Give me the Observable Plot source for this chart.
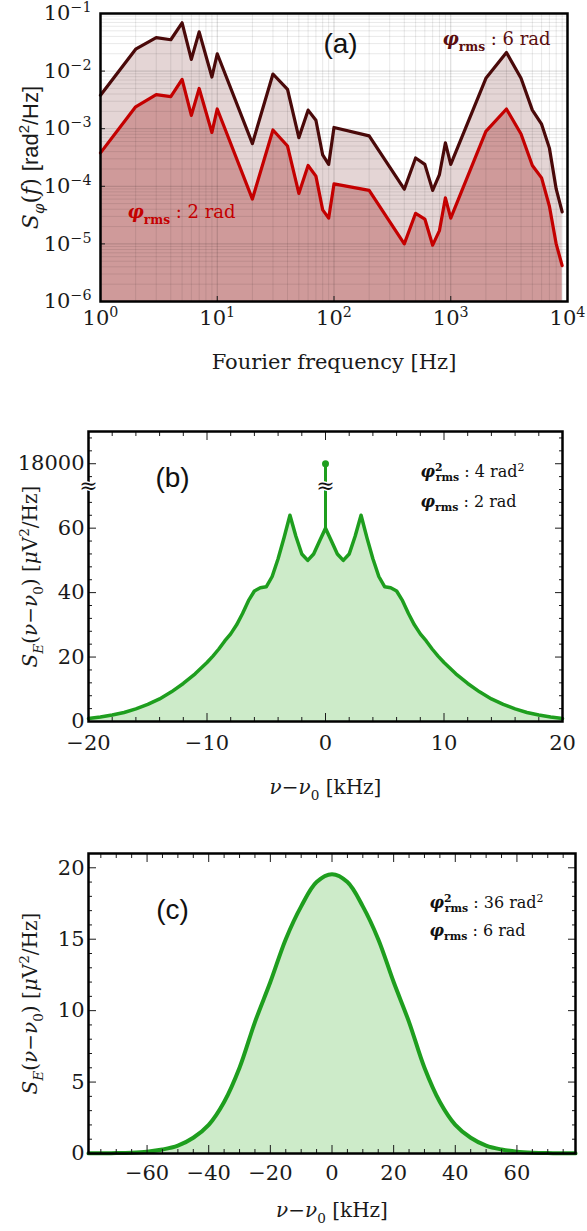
<!DOCTYPE html>
<html><head><meta charset="utf-8">
<script src="https://cdn.jsdelivr.net/npm/d3@7"></script>
<script src="https://cdn.jsdelivr.net/npm/@observablehq/plot@0.6"></script>
<style>
body{margin:0;background:#fff;}
#wrap{position:relative;width:587px;height:1231px;overflow:hidden;background:#fff;}
#wrap > svg{position:absolute;left:0;overflow:visible;}
</style></head><body><div id="wrap"></div>
<script>
// ---------- Panel (a): phase-noise PSD ----------
const freqA = [1,2,3,4,5,6,7,9,10,20,30,40,50,60,70,80,90,100,200,400,500,600,700,800,900,1000,2000,3000,4000,5000,6000,7000,8000,9000];
const psd6rad = [3.8e-3,2.4e-2,3.8e-2,3.5e-2,6.9e-2,1.6e-2,4.8e-2,7.9e-3,2.0e-2,5.5e-4,8.9e-3,4.8e-3,7.0e-4,2.1e-3,1.4e-3,3.5e-4,2.4e-4,1.05e-3,7.5e-4,8.9e-5,3.1e-4,2.4e-4,8.5e-5,1.6e-4,5.7e-4,2.4e-4,7.5e-3,2.1e-2,7.5e-3,2.1e-3,1.2e-3,4.6e-4,9.0e-5,3.6e-5];
const psd2rad = [3.8e-4,2.4e-3,3.9e-3,3.6e-3,7.2e-3,1.7e-3,5.0e-3,8.6e-4,2.2e-3,6.0e-5,9.5e-4,5.0e-4,7.5e-5,2.3e-4,1.5e-4,3.9e-5,2.8e-5,1.1e-4,8.5e-5,1.0e-5,3.4e-5,2.7e-5,9.5e-6,1.7e-5,6.3e-5,2.8e-5,9.0e-4,2.2e-3,8.1e-4,2.3e-4,1.4e-4,4.5e-5,1.0e-5,4.2e-6];
const ticksAx = [1,10,100,1000,10000];
const ticksAy = [1e-6,1e-5,1e-4,1e-3,1e-2,1e-1];

// ---------- Panel (b): field spectrum, phi_rms = 2 rad ----------
const detuneB = [-20,-19,-18,-17,-16,-15,-14,-13,-12,-11,-10,-9.5,-9,-8.5,-8,-7.5,-7,-6.5,-6,-5.5,-5,-4.5,-4,-3.5,-3,-2.5,-2,-1.5,-1,-0.5,0,0.5,1,1.5,2,2.5,3,3.5,4,4.5,5,5.5,6,6.5,7,7.5,8,8.5,9,9.5,10,11,12,13,14,15,16,17,18,19,20];
const specB   = [0.9,1.4,2.0,2.8,3.9,5.3,7.0,9.2,11.8,14.8,18.3,20.3,22.5,25.0,27.2,30.0,33.5,37.5,40.5,41.5,41.8,45,50.5,57,64,57.5,52,50,52,56,60,56,52,50,52,57.5,64,57,50.5,45,41.8,41.5,40.5,37.5,33.5,30.0,27.2,25.0,22.5,20.3,18.3,14.8,11.8,9.2,7.0,5.3,3.9,2.8,2.0,1.4,0.9];
const carrierPeakB = 18000;      // value of the carrier spike (shown above the axis break)
const carrierBase = 60;
const ticksBx = [-20,-10,0,10,20];
const ticksBy = [0,20,40,60];

// ---------- Panel (c): field spectrum, phi_rms = 6 rad ----------
const detuneC = [-79,-75,-70,-65,-60,-55,-50,-45,-40,-35,-30,-25,-20,-15,-10,-5,0,5,10,15,20,25,30,35,40,45,50,55,60,65,70,75,79];
const specC   = [0.01,0.02,0.03,0.06,0.13,0.28,0.55,1.1,2.0,3.6,6.0,9.2,12.0,15.0,17.3,19.0,19.55,19.0,17.3,15.0,12.0,9.2,6.0,3.6,2.0,1.1,0.55,0.28,0.13,0.06,0.03,0.02,0.01];
const ticksCx = [-60,-40,-20,0,20,40,60];
const ticksCy = [0,5,10,15,20];

// ---------- helpers ----------
const SERIF = "'DejaVu Serif', 'Liberation Serif', serif";
const SANS = "'Liberation Sans', Arial, sans-serif";
const SVGNS = "http://www.w3.org/2000/svg";
const wrap = document.getElementById("wrap");

function richify(svg, key, segs) {
  for (const t of svg.querySelectorAll("text")) {
    if (t.textContent !== key) continue;
    while (t.firstChild) t.removeChild(t.firstChild);
    let shift = 0;
    for (const s of segs) {
      const ts = document.createElementNS(SVGNS, "tspan");
      ts.textContent = s.t;
      const small = s.sub || s.sup;
      const fs = small ? 0.68 : 1;
      const target = s.sub ? 0.3 : s.sup ? -0.38 : 0;
      if (small) ts.setAttribute("font-size", (fs * 100) + "%");
      if (target !== shift) { ts.setAttribute("dy", ((target - shift) / fs).toFixed(3) + "em"); shift = target; }
      if (s.dx) ts.setAttribute("dx", s.dx + "em");
      if (s.i) ts.setAttribute("font-style", "italic");
      if (s.b) ts.setAttribute("font-weight", "bold");
      if (s.font) ts.setAttribute("font-family", s.font);
      t.appendChild(ts);
    }
  }
}
function powFmt(d) { return "10^" + String(Math.round(Math.log10(d))).replace("-", "−"); }
function supTicks(svg) {
  for (const t of svg.querySelectorAll("text")) {
    const s = t.textContent;
    if (!/^10\^/.test(s)) continue;
    richify(svg, s, [{t: "10"}, {t: s.slice(3), sup: true}]);
  }
}
function place(svg, top) { svg.style.top = top + "px"; wrap.appendChild(svg); }
function minorLog(lo, hi) {
  const out = [];
  for (let e = lo; e < hi; e++) for (let m = 2; m <= 9; m++) out.push(m * Math.pow(10, e));
  return out;
}
const empty = () => "";
const C = {textAnchor: "middle", lineAnchor: "middle"};
const S = {textAnchor: "start", lineAnchor: "middle"};

// ---------- Panel (a) ----------
const dataA = freqA.map((f, i) => ({f, hi: psd6rad[i], lo: psd2rad[i]}));
const minorAx = minorLog(0, 4), minorAy = minorLog(-6, -1);
const plotA = Plot.plot({
  width: 587, height: 380, marginTop: 13, marginBottom: 79, marginLeft: 100, marginRight: 20,
  style: {fontFamily: SERIF, fontSize: "21px", color: "#1a1a1a", background: "transparent"},
  x: {type: "log", domain: [1, 1e4]},
  y: {type: "log", domain: [1e-6, 1e-1]},
  marks: [
    Plot.areaY(dataA, {x: "f", y1: 1e-6, y2: "hi", fill: "#e4d5d5"}),
    Plot.areaY(dataA, {x: "f", y1: 1e-6, y2: "lo", fill: "#cf9a9a"}),
    Plot.gridX(minorAx, {stroke: "#000", strokeOpacity: 0.09}),
    Plot.gridY(minorAy, {stroke: "#000", strokeOpacity: 0.09}),
    Plot.gridX(ticksAx, {stroke: "#000", strokeOpacity: 0.16}),
    Plot.gridY(ticksAy, {stroke: "#000", strokeOpacity: 0.16}),
    Plot.lineY(dataA, {x: "f", y: "hi", stroke: "#4a0909", strokeWidth: 3.2}),
    Plot.lineY(dataA, {x: "f", y: "lo", stroke: "#c40000", strokeWidth: 3.2}),
    Plot.axisX(ticksAx, {tickSize: -5, tickPadding: 14, tickFormat: powFmt, label: null, fontSize: 21}),
    Plot.axisY(ticksAy, {tickSize: -5, tickPadding: 14, tickFormat: powFmt, label: null, fontSize: 21}),
    Plot.frame({stroke: "#000", strokeWidth: 2.5}),
    Plot.text(["(a)"], {text: d => d, frameAnchor: "top-left", dx: 240, dy: 31, ...C, fontFamily: SANS, fontSize: 28, fill: "#111"}),
    Plot.text(["φrms : 6 rad"], {text: d => d, frameAnchor: "top-left", dx: 342, dy: 26, ...S, fontSize: 18, fill: "#5a0e0e"}),
    Plot.text(["φrms : 2 rad"], {text: d => d, frameAnchor: "top-left", dx: 27, dy: 199, ...S, fontSize: 18, fill: "#c40000"}),
    Plot.text(["Sφ(f) [rad2/Hz]"], {text: d => d, frameAnchor: "left", dx: -70, rotate: -90, ...C, fontSize: 22}),
    Plot.text(["Fourier frequency [Hz]"], {text: d => d, frameAnchor: "bottom", dy: 61, ...C, fontSize: 21})
  ]
});
supTicks(plotA);
richify(plotA, "φrms : 6 rad", [{t: "φ", b: 1, i: 1}, {t: "rms", b: 1, sub: 1}, {t: " : 6 rad"}]);
richify(plotA, "φrms : 2 rad", [{t: "φ", b: 1, i: 1}, {t: "rms", b: 1, sub: 1}, {t: " : 2 rad"}]);
richify(plotA, "Sφ(f) [rad2/Hz]", [{t: "S", i: 1}, {t: "φ", i: 1, sub: 1}, {t: "("}, {t: "f", i: 1}, {t: ") "}, {t: "[rad", font: SANS}, {t: "2", sup: 1, font: SANS}, {t: "/Hz]", font: SANS}]);
place(plotA, 0);

// ---------- Panel (b) ----------
const breakAt = 80;  // plotting height at which the carrier value is drawn (axis break)
const dataB = detuneB.map((x, i) => ({x, y: specB[i]}));
const spike = [{x: 0, base: carrierBase, top: breakAt, value: carrierPeakB}];
const minorBx = d3.range(-18, 20, 2).filter(v => v % 10 !== 0);
const minorBy = d3.range(4, 90, 4).filter(v => v % 20 !== 0);
const yLabelKey = "SE(ν−ν0) [μV2/Hz]";
const xLabelKey = "ν−ν0 [kHz]";
const ySegs = [{t: "S", i: 1}, {t: "E", i: 1, sub: 1}, {t: "("}, {t: "ν", i: 1}, {t: "−"}, {t: "ν", i: 1}, {t: "0", sub: 1}, {t: ") ["}, {t: "μ", i: 1}, {t: "V"}, {t: "2", sup: 1}, {t: "/Hz]"}];
const xSegs = [{t: "ν", i: 1}, {t: "−"}, {t: "ν", i: 1}, {t: "0", sub: 1}, {t: " [kHz]"}];
const GREEN = "#1e9e1e", GFILL = "#cdebc9";
const plotB = Plot.plot({
  width: 587, height: 400, marginTop: 31, marginBottom: 79, marginLeft: 88, marginRight: 25,
  style: {fontFamily: SERIF, fontSize: "21px", color: "#1a1a1a", background: "transparent"},
  x: {domain: [-20, 20]},
  y: {domain: [0, 90]},
  marks: [
    Plot.areaY(dataB, {x: "x", y: "y", fill: GFILL}),
    Plot.lineY(dataB, {x: "x", y: "y", stroke: GREEN, strokeWidth: 3.5}),
    Plot.ruleX(spike, {x: "x", y1: "base", y2: "top", stroke: GREEN, strokeWidth: 3}),
    Plot.dot(spike, {x: "x", y: "top", r: 3.5, fill: GREEN}),
    Plot.text(spike, {x: "x", y: breakAt - 7, text: () => "≈", fontSize: 22, fill: "#111", stroke: "white", strokeWidth: 3}),
    Plot.axisX(ticksBx, {tickSize: -8, tickPadding: 22, label: null, tickFormat: d => String(d).replace("-", "−"), fontSize: 21}),
    Plot.axisX(minorBx, {tickSize: -4, label: null, tickFormat: empty}),
    Plot.axisX(ticksBx, {anchor: "top", tickSize: -8, label: null, tickFormat: empty}),
    Plot.axisX(minorBx, {anchor: "top", tickSize: -4, label: null, tickFormat: empty}),
    Plot.axisY([...ticksBy, breakAt], {tickSize: -8, tickPadding: 12, label: null, tickFormat: d => d === breakAt ? String(carrierPeakB) : String(d), fontSize: 21}),
    Plot.axisY(minorBy, {tickSize: -4, label: null, tickFormat: empty}),
    Plot.axisY([...ticksBy, breakAt], {anchor: "right", tickSize: -8, label: null, tickFormat: empty}),
    Plot.axisY(minorBy, {anchor: "right", tickSize: -4, label: null, tickFormat: empty}),
    Plot.frame({stroke: "#000", strokeWidth: 2.5}),
    Plot.text(["≈"], {text: d => d, x: -20, y: breakAt - 7, fontSize: 22, fill: "#111", stroke: "white", strokeWidth: 3}),
    Plot.text(["(b)"], {text: d => d, frameAnchor: "top-left", dx: 84, dy: 47, ...C, fontFamily: SANS, fontSize: 28, fill: "#111"}),
    Plot.text(["φ2rms : 4 rad2"], {text: d => d, frameAnchor: "top-left", dx: 332, dy: 40, ...S, fontSize: 16, fill: "#111"}),
    Plot.text(["φrms : 2 rad"], {text: d => d, frameAnchor: "top-left", dx: 332, dy: 70, ...S, fontSize: 16, fill: "#111"}),
    Plot.text([yLabelKey], {text: d => d, frameAnchor: "left", dx: -58, rotate: -90, ...C, fontSize: 20}),
    Plot.text([xLabelKey], {text: d => d, frameAnchor: "bottom", dy: 66, ...C, fontSize: 20})
  ]
});
richify(plotB, "φ2rms : 4 rad2", [{t: "φ", b: 1, i: 1}, {t: "2", b: 1, sup: 1}, {t: "rms", b: 1, sub: 1, dx: -0.62}, {t: " : 4 rad"}, {t: "2", sup: 1}]);
richify(plotB, "φrms : 2 rad", [{t: "φ", b: 1, i: 1}, {t: "rms", b: 1, sub: 1}, {t: " : 2 rad"}]);
richify(plotB, yLabelKey, ySegs);
richify(plotB, xLabelKey, xSegs);
place(plotB, 400);

// ---------- Panel (c) ----------
const dataC = detuneC.map((x, i) => ({x, y: specC[i]}));
const minorCx = d3.range(-75, 80, 5).filter(v => v % 20 !== 0);
const minorCy = d3.range(1, 21, 1).filter(v => v % 5 !== 0);
const plotC = Plot.plot({
  width: 587, height: 401, marginTop: 23, marginBottom: 78, marginLeft: 88, marginRight: 12,
  style: {fontFamily: SERIF, fontSize: "21px", color: "#1a1a1a", background: "transparent"},
  x: {domain: [-79, 79]},
  y: {domain: [0, 21]},
  marks: [
    Plot.areaY(dataC, {x: "x", y: "y", fill: GFILL, curve: "catmull-rom"}),
    Plot.lineY(dataC, {x: "x", y: "y", stroke: GREEN, strokeWidth: 4, curve: "catmull-rom"}),
    Plot.axisX(ticksCx, {tickSize: -8, tickPadding: 20, label: null, tickFormat: d => String(d).replace("-", "−"), fontSize: 21}),
    Plot.axisX(minorCx, {tickSize: -4, label: null, tickFormat: empty}),
    Plot.axisX(ticksCx, {anchor: "top", tickSize: -8, label: null, tickFormat: empty}),
    Plot.axisX(minorCx, {anchor: "top", tickSize: -4, label: null, tickFormat: empty}),
    Plot.axisY(ticksCy, {tickSize: -8, tickPadding: 12, label: null, fontSize: 21}),
    Plot.axisY(minorCy, {tickSize: -4, label: null, tickFormat: empty}),
    Plot.axisY(ticksCy, {anchor: "right", tickSize: -8, label: null, tickFormat: empty}),
    Plot.axisY(minorCy, {anchor: "right", tickSize: -4, label: null, tickFormat: empty}),
    Plot.frame({stroke: "#000", strokeWidth: 2.5}),
    Plot.text(["(c)"], {text: d => d, frameAnchor: "top-left", dx: 84, dy: 57, ...C, fontFamily: SANS, fontSize: 28, fill: "#111"}),
    Plot.text(["φ2rms : 36 rad2"], {text: d => d, frameAnchor: "top-left", dx: 341, dy: 49, ...S, fontSize: 16, fill: "#111"}),
    Plot.text(["φrms : 6 rad"], {text: d => d, frameAnchor: "top-left", dx: 341, dy: 77, ...S, fontSize: 16, fill: "#111"}),
    Plot.text([yLabelKey], {text: d => d, frameAnchor: "left", dx: -58, rotate: -90, ...C, fontSize: 20}),
    Plot.text([xLabelKey], {text: d => d, frameAnchor: "bottom", dy: 57, ...C, fontSize: 20})
  ]
});
richify(plotC, "φ2rms : 36 rad2", [{t: "φ", b: 1, i: 1}, {t: "2", b: 1, sup: 1}, {t: "rms", b: 1, sub: 1, dx: -0.62}, {t: " : 36 rad"}, {t: "2", sup: 1}]);
richify(plotC, "φrms : 6 rad", [{t: "φ", b: 1, i: 1}, {t: "rms", b: 1, sub: 1}, {t: " : 6 rad"}]);
richify(plotC, yLabelKey, ySegs);
richify(plotC, xLabelKey, xSegs);
place(plotC, 830);
</script>
</body></html>
